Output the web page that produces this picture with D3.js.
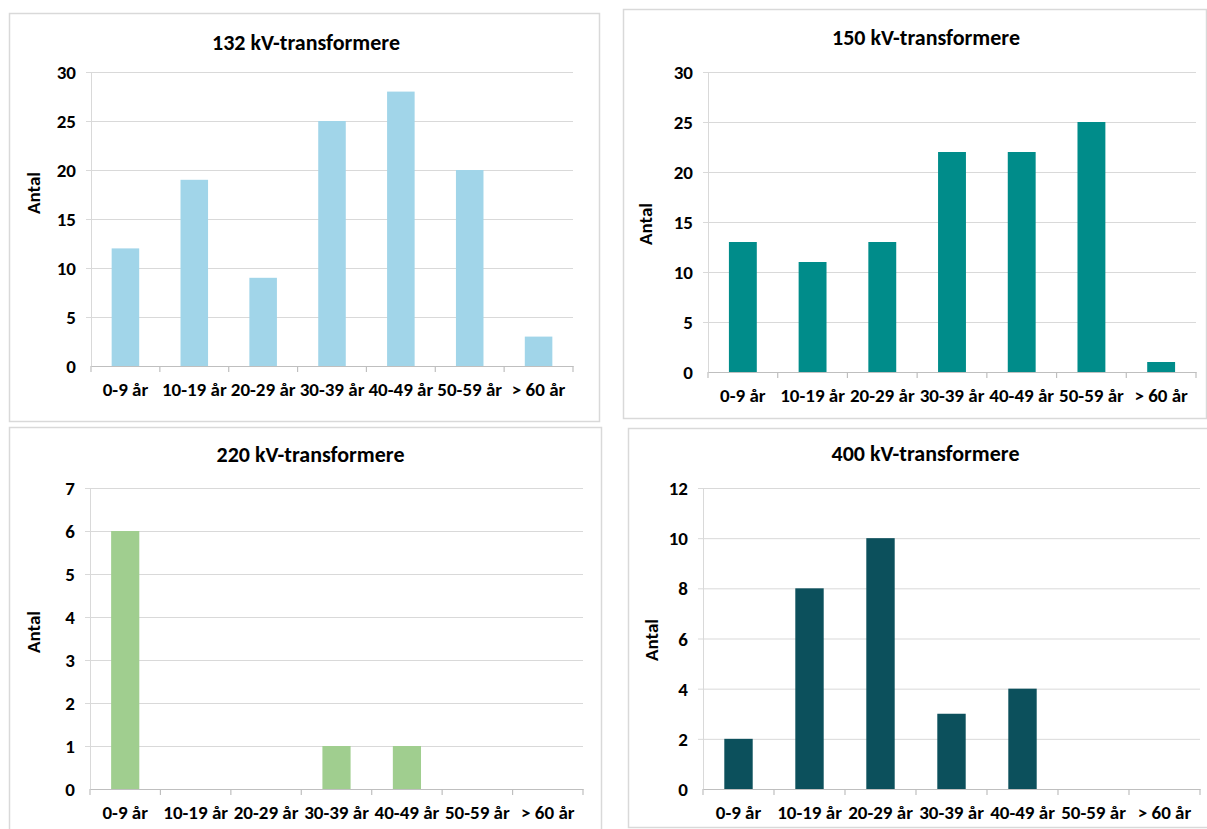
<!DOCTYPE html>
<html>
<head>
<meta charset="utf-8">
<script src="https://cdn.jsdelivr.net/npm/d3@7"></script>
<style>
  html, body { margin: 0; padding: 0; background: #fff; }
  svg { display: block; }
  text { font-family: Carlito, "Liberation Sans Narrow", "Liberation Sans", Arial, sans-serif; font-weight: bold; fill: #000; }
</style>
</head>
<body>
<svg id="chart" width="1207" height="829"></svg>
<script>
// Age groups shared by all four charts
const ageGroups = ["0-9 år", "10-19 år", "20-29 år", "30-39 år", "40-49 år", "50-59 år", "> 60 år"];

// Number of transformers per age group, by voltage level
const count132 = [12, 19, 9, 25, 28, 20, 3];
const count150 = [13, 11, 13, 22, 22, 25, 1];
const count220 = [6, 0, 0, 1, 1, 0, 0];
const count400 = [2, 8, 10, 3, 4, 0, 0];

// Y-axis ticks for each chart
const ticks132 = [0, 5, 10, 15, 20, 25, 30];
const ticks150 = [0, 5, 10, 15, 20, 25, 30];
const ticks220 = [0, 1, 2, 3, 4, 5, 6, 7];
const ticks400 = [0, 2, 4, 6, 8, 10, 12];

const titles = ["132 kV-transformere", "150 kV-transformere", "220 kV-transformere", "400 kV-transformere"];
const yLabel = "Antal";

const panels = [
  { title: titles[0], values: count132, ticks: ticks132, color: "#a1d5e9",
    box: [9, 13, 599, 421], x: [91, 573], y: [366, 72], titleY: 42, labelX: 33, labelY: 193 },
  { title: titles[1], values: count150, ticks: ticks150, color: "#008c8a",
    box: [623, 9, 1206, 418], x: [708, 1196], y: [372, 72], titleY: 37, labelX: 645, labelY: 224 },
  { title: titles[2], values: count220, ticks: ticks220, color: "#a0ce8f",
    box: [9, 427, 601, 840], x: [90, 583], y: [789, 488], titleY: 454, labelX: 33, labelY: 632 },
  { title: titles[3], values: count400, ticks: ticks400, color: "#0c505c",
    box: [628, 428, 1212, 827], x: [703, 1200], y: [789, 488], titleY: 453, labelX: 651, labelY: 640 }
];

const svg = d3.select("#chart");

panels.forEach(p => {
  const g = svg.append("g");
  const [bx0, by0, bx1, by1] = p.box;

  // chart frame
  g.append("rect")
    .attr("x", bx0 + 0.5).attr("y", by0 + 0.5)
    .attr("width", bx1 - bx0).attr("height", by1 - by0)
    .attr("fill", "#fff").attr("stroke", "#d9d9d9").attr("stroke-width", 1.5);

  const x = d3.scaleBand().domain(ageGroups).range(p.x).paddingInner(0.6).paddingOuter(0.3);
  const xb = d3.scaleBand().domain(ageGroups).range(p.x);
  const yMax = p.ticks[p.ticks.length - 1];
  const y = d3.scaleLinear().domain([0, yMax]).range(p.y);

  // horizontal gridlines with short outside ticks
  const yAxis = d3.axisLeft(y).tickValues(p.ticks).tickFormat(d3.format("d"))
    .tickSize(-(p.x[1] - p.x[0])).tickPadding(15).tickSizeOuter(0);
  const ya = g.append("g").attr("transform", `translate(${p.x[0]},0)`).call(yAxis);
  ya.select(".domain").attr("stroke", "#d9d9d9");
  ya.selectAll(".tick line").attr("stroke", "#d9d9d9").attr("x1", -5);
  ya.selectAll(".tick text").style("font-size", "19px").attr("dy", "0.35em");
  ya.selectAll(".tick").filter(d => d === 0).select("line").attr("stroke", "none");

  // bars
  g.append("g").selectAll("rect").data(p.values).join("rect")
    .attr("x", (d, i) => x(ageGroups[i]))
    .attr("width", x.bandwidth())
    .attr("y", d => y(d))
    .attr("height", d => y(0) - y(d))
    .attr("fill", p.color);

  // category axis
  const xa = g.append("g").attr("transform", `translate(0,${p.y[0]})`)
    .call(d3.axisBottom(xb).tickSize(0).tickPadding(23));
  xa.select(".domain").attr("stroke", "#bfbfbf").attr("stroke-width", 1.2);
  xa.selectAll(".tick text").style("font-size", "19px").attr("dy", "0.35em");
  const bounds = ageGroups.map(c => xb(c)).concat([p.x[1]]);
  xa.selectAll(".bound").data(bounds).join("line").attr("class", "bound")
    .attr("x1", d => d).attr("x2", d => d).attr("y1", 0).attr("y2", 6)
    .attr("stroke", "#bfbfbf").attr("stroke-width", 1.2);

  // title
  g.append("text")
    .attr("x", (p.x[0] + p.x[1]) / 2 - 26).attr("y", p.titleY).attr("dy", "0.35em")
    .attr("text-anchor", "middle").style("font-size", "22px").text(p.title);

  // y-axis label
  g.append("text")
    .attr("transform", `translate(${p.labelX},${p.labelY}) rotate(-90)`)
    .attr("dy", "0.35em").attr("text-anchor", "middle").style("font-size", "19px").text(yLabel);
});
</script>
</body>
</html>
